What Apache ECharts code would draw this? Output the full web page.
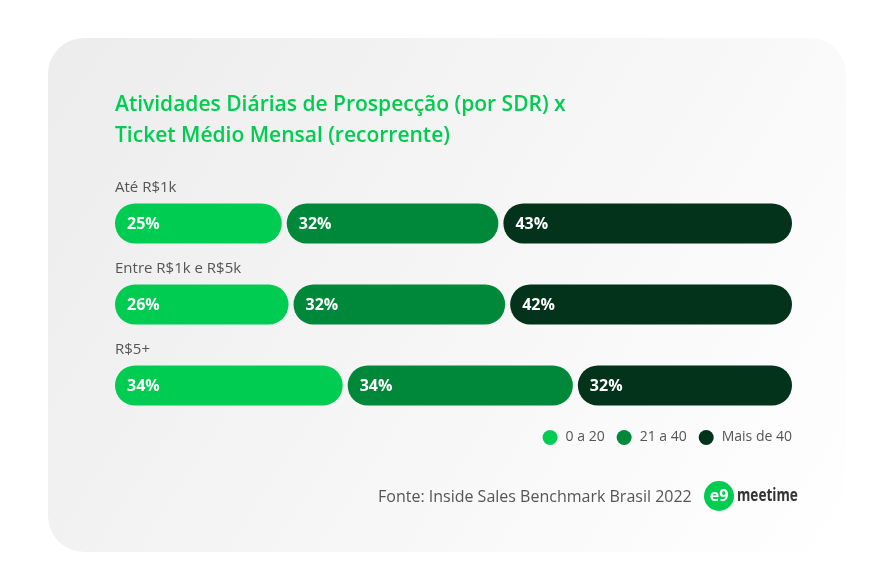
<!DOCTYPE html>
<html><head><meta charset="utf-8">
<script src="https://cdn.jsdelivr.net/npm/echarts@6/dist/echarts.min.js"></script>
<style>html,body{margin:0;padding:0;background:#fff}#c{width:895px;height:588px}</style>
</head><body><div id="c"></div>
<script>
const categories = ['Até R$1k', 'Entre R$1k e R$5k', 'R$5+'];
const seriesNames = ['0 a 20', '21 a 40', 'Mais de 40'];
const v0a20 = [25, 26, 34];
const v21a40 = [32, 32, 34];
const vMais40 = [43, 42, 32];
const colors = ['#00cc52', '#00883a', '#03331a'];
const FONT = "'Open Sans', 'Noto Sans', sans-serif";

const all = [v0a20, v21a40, vMais40];
function segData(k) {
  return categories.map((c, i) => {
    let start = 0;
    for (let j = 0; j < k; j++) start += all[j][i];
    return [i, start, all[k][i]];
  });
}
function renderSeg(params, api) {
  const cat = api.value(0), start = api.value(1), val = api.value(2);
  const p0 = api.coord([start, cat]);
  const p1 = api.coord([start + val, cat]);
  const h = 40, gap = 2.5;
  const x0 = p0[0] + (start === 0 ? 0 : gap);
  const x1 = p1[0] - (start + val >= 99.9 ? 0 : gap);
  return {
    type: 'group',
    children: [
      { type: 'rect', shape: { x: x0, y: p0[1] - h / 2, width: x1 - x0, height: h, r: h / 2 },
        style: { fill: api.visual('color') } },
      { type: 'text', style: { text: val + '%', x: x0 + 12, y: p0[1] + 1, verticalAlign: 'middle',
        fill: '#ffffff', font: 'bold 16px ' + FONT } }
    ]
  };
}
function renderCat(params, api) {
  const cat = api.value(0);
  const p = api.coord([0, cat]);
  return { type: 'text', style: { text: categories[cat], x: p[0], y: p[1] - 36, verticalAlign: 'middle',
    fill: '#555555', font: '15px ' + FONT } };
}

const series = seriesNames.map((n, k) => ({
  name: n, type: 'custom', renderItem: renderSeg, data: segData(k),
  encode: { x: 1, y: 0 }, itemStyle: { color: colors[k] }, silent: true
}));
series.push({ name: 'cats', type: 'custom', renderItem: renderCat,
  data: categories.map((c, i) => [i, 0]), encode: { x: 1, y: 0 }, silent: true });

const chart = echarts.init(document.getElementById('c'));
chart.setOption({
  animation: false,
  graphic: [
    { type: 'rect', z: -10, shape: { x: 48, y: 38, width: 798, height: 514, r: 36 },
      style: { fill: new echarts.graphic.LinearGradient(0, 0, 1, 1, [
        { offset: 0, color: '#ececec' }, { offset: 1, color: '#ffffff' }]) } },
    { type: 'text', left: 115, top: 90, style: { text: 'Atividades Diárias de Prospecção (por SDR) x\nTicket Médio Mensal (recorrente)',
      fill: '#00cc52', font: '600 21px ' + FONT, lineHeight: 31 } },
    { type: 'text', x: 378, y: 497, style: { text: 'Fonte: Inside Sales Benchmark Brasil 2022', verticalAlign: 'middle',
      fill: '#555555', font: '16px ' + FONT } },
    { type: 'circle', shape: { cx: 719, cy: 496, r: 15 }, style: { fill: '#00cc52' } },
    { type: 'text', x: 719, y: 496, style: { text: 'e9', align: 'center', verticalAlign: 'middle',
      fill: '#ffffff', font: 'bold 16px ' + FONT } },
    { type: 'text', x: 737, y: 496, scaleX: 0.8, style: { text: 'meetime', verticalAlign: 'middle', fill: '#333333', font: 'bold 17px ' + FONT } }
  ],
  legend: {
    data: seriesNames, right: 103, top: 430, padding: 0, icon: 'circle', itemWidth: 15, itemHeight: 15, itemGap: 12,
    textStyle: { color: '#555555', fontSize: 14, fontFamily: FONT, padding: [0, 0, 0, 3] }, selectedMode: false
  },
  grid: { left: 115, right: 103, top: 183, bottom: 162 },
  xAxis: { type: 'value', min: 0, max: 100, show: false },
  yAxis: { type: 'category', data: categories, inverse: true, show: false },
  series: series
});
</script></body></html>
